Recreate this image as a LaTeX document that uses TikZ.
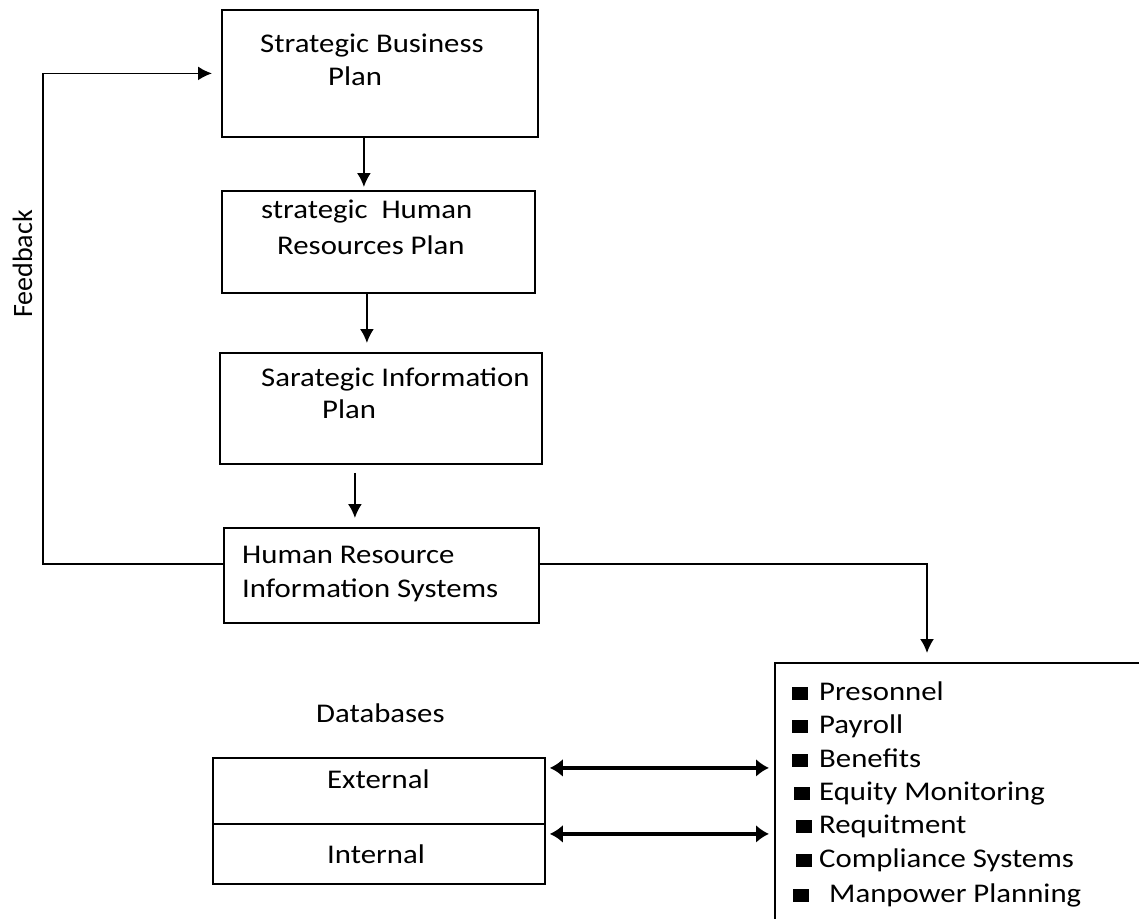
\documentclass[tikz,border=0pt]{standalone}
\usepackage{fontspec}
\setmainfont{Carlito}[FakeStretch=1.14]
\newfontfamily\plainfont{Carlito}
\usetikzlibrary{arrows.meta}

\begin{document}
\begin{tikzpicture}[
  x=1pt, y=-1pt,
  box/.style={draw, line width=1.8pt, inner sep=0pt, anchor=north west},
  txt/.style={anchor=base west, inner sep=0pt, font=\fontsize{27}{33}\selectfont},
  arr/.style={-{Latex[length=14pt, width=14pt]}, line width=1.8pt},
  dbl/.style={{Latex[length=13pt, width=18pt]}-{Latex[length=13pt, width=18pt]}, line width=4.5pt}
]
  \useasboundingbox (0,0) rectangle (1139,918);
  \clip (0,0) rectangle (1139,918);

  % planning boxes
  \node[box, minimum width=316pt, minimum height=127pt] (sbp)  at (221,9)   {};
  \node[box, minimum width=313pt, minimum height=102pt] (shrp) at (221,190) {};
  \node[box, minimum width=322pt, minimum height=111pt] (sip)  at (219,352) {};
  \node[box, minimum width=315pt, minimum height=95pt]  (hris) at (223,527) {};

  \node[txt] (sbp-a)  at (260,52)  {Strategic Business};
  \node[txt] (sbp-b)  at (328,85)  {Plan};
  \node[txt] (shrp-a) at (261,218) {strategic\ \ Human};
  \node[txt] (shrp-b) at (277,254) {Resources Plan};
  \node[txt] (sip-a)  at (261,386) {Sarategic Information};
  \node[txt] (sip-b)  at (322,418) {Plan};
  \node[txt] (hris-a) at (242,563) {Human Resource};
  \node[txt] (hris-b) at (242,597) {Information Systems};

  % databases
  \node[txt] (dbs) at (316,722) {Databases};
  \node[box, minimum width=332pt, minimum height=66pt] (ext) at (212,757) {};
  \node[box, minimum width=332pt, minimum height=60pt] (int) at (212,823) {};
  \node[txt] (ext-t) at (327,788) {External};
  \node[txt] (int-t) at (327,863) {Internal};

  % applications
  \node[box, minimum width=400pt, minimum height=280pt] (list) at (774,662) {};
  \foreach \bx/\by/\gap/\item [count=\i] in {
      792/700/11pt/Presonnel, 792/733/11pt/Payroll, 792/767/11pt/Benefits,
      794/800/9pt/Equity Monitoring, 796/833/7pt/Requitment,
      796/867/7pt/Compliance Systems, 793/902/20pt/Manpower Planning}
    \node[txt] (item\i) at (\bx,\by) {\rule{16pt}{13pt}\hspace*{\gap}\item};

  \node[txt, font=\plainfont\fontsize{28}{33}\selectfont, rotate=90] (fb) at (32,318) {Feedback};
  \coordinate (fbx) at (43,0);
  \coordinate (drop) at (927,0);

  % connectors
  \draw[arr, shorten >=3pt] ([xshift=-16pt]sbp.south) -- ([xshift=-14.5pt]shrp.north);
  \draw[arr, shorten >=9pt] ([xshift=-11.5pt]shrp.south) -- ([xshift=-14pt]sip.north);
  \draw[arr, shorten <=8pt, shorten >=9pt] ([xshift=-26pt]sip.south) -- ([xshift=-26.5pt]hris.north);
  \draw[arr, shorten >=9pt] ([yshift=11.5pt]hris.west) -| (fbx |- sbp.west) -- (sbp.west);
  \draw[arr, shorten >=9pt] ([yshift=11.5pt]hris.east) -| (drop |- list.north);
  \draw[dbl, shorten <=4pt, shorten >=5pt] ([yshift=23pt]ext.east) -- ([yshift=23pt]ext.east -| list.west);
  \draw[dbl, shorten <=4pt, shorten >=5pt] ([yshift=20pt]int.east) -- ([yshift=20pt]int.east -| list.west);
\end{tikzpicture}
\end{document}
